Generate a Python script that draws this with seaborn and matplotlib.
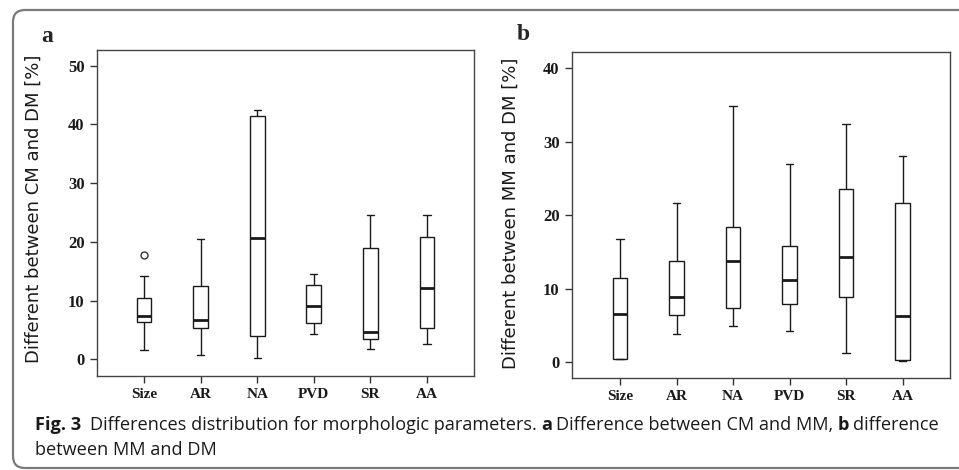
import numpy as np
import pandas as pd
import matplotlib
matplotlib.use("Agg")
import matplotlib.pyplot as plt
from matplotlib.patches import FancyBboxPatch
from matplotlib.transforms import IdentityTransform
import seaborn as sns

params = ["Size", "AR", "NA", "PVD", "SR", "AA"]

# panel a - five number summaries (CM vs DM)
a_low = [1.6, 0.7, 0.3, 4.3, 1.8, 2.6]
a_q1 = [6.4, 5.4, 4.0, 6.1, 3.5, 5.4]
a_med = [7.3, 6.7, 20.7, 9.0, 4.6, 12.1]
a_q3 = [10.4, 12.5, 41.5, 12.7, 19.0, 20.9]
a_high = [14.1, 20.4, 42.5, 14.5, 24.6, 24.6]
a_outlier_cat = ["Size"]
a_outlier_val = [17.8]

# panel b - MM vs DM
b_low = [0.36, 3.8, 4.9, 4.2, 1.2, 0.2]
b_q1 = [0.4, 6.4, 7.3, 7.9, 8.9, 0.3]
b_med = [6.5, 8.8, 13.7, 11.1, 14.3, 6.3]
b_q3 = [11.4, 13.8, 18.4, 15.8, 23.6, 21.7]
b_high = [16.7, 21.6, 34.8, 26.9, 32.4, 28.1]

a_yticks = [0, 10, 20, 30, 40, 50]
b_yticks = [0, 10, 20, 30, 40]

caption_1 = [("Fig. 3", "bold", 9),
             ("Differences distribution for morphologic parameters.", "normal", 4),
             ("a", "bold", 4),
             ("Difference between CM and MM,", "normal", 4),
             ("b", "bold", 4),
             ("difference", "normal", 0)]
caption_2 = [("between MM and DM", "normal", 0)]


def to_frame(low, q1, med, q3, high):
    # five points per group -> quartiles land exactly on q1/med/q3
    vals = low + q1 + med + q3 + high
    return pd.DataFrame({"param": params * 5, "value": vals})


sns.set_style("ticks")
plt.rcParams["font.family"] = ["DejaVu Sans"]

fig = plt.figure(figsize=(9.59, 4.70), dpi=100)

# rounded frame around the whole figure (open on the right)
frame = FancyBboxPatch((13, 2), 1000, 458,
                       boxstyle="round,pad=0,rounding_size=12",
                       transform=IdentityTransform(), facecolor="none",
                       edgecolor="#7a7a7a", linewidth=1.6)
fig.add_artist(frame)

tick_font = dict(family="Liberation Serif", weight="bold")


def draw_panel(ax, df, ylim, yticks, ylabel, label_xy):
    sns.boxplot(data=df, x="param", y="value", order=params, whis=np.inf,
                width=0.26, color="white", linecolor="#1a1a1a", linewidth=1.0,
                showfliers=False, medianprops={"linewidth": 2.0},
                ax=ax)
    ax.set_ylim(*ylim)
    ax.set_yticks(yticks)
    ax.set_xlabel("")
    ax.set_ylabel(ylabel, fontsize=13, color="#1a1a1a")
    ax.yaxis.set_label_coords(*label_xy)
    for lab in ax.get_yticklabels():
        lab.set_fontproperties(tick_font)
        lab.set_fontsize(12)
    for lab in ax.get_xticklabels():
        lab.set_fontproperties(tick_font)
        lab.set_fontsize(11)
    ax.tick_params(length=5, width=1, pad=4, color="#333333",
                   labelcolor="#1a1a1a")
    for sp in ax.spines.values():
        sp.set_visible(True)
        sp.set_color("#444444")
        sp.set_linewidth(1.0)


ax_a = fig.add_axes([97 / 959, 94 / 470, 377 / 959, 326 / 470])
draw_panel(ax_a, to_frame(a_low, a_q1, a_med, a_q3, a_high),
           (-2.84, 52.65), a_yticks, "Different between CM and DM [%]",
           (-0.143, 0.512))
ax_a.set_xlim(-0.83, 5.83)
ax_a.plot([params.index(c) for c in a_outlier_cat], a_outlier_val, "o",
          mfc="none", mec="#333333", ms=5, mew=1)

ax_b = fig.add_axes([572 / 959, 92 / 470, 378 / 959, 326 / 470])
draw_panel(ax_b, to_frame(b_low, b_q1, b_med, b_q3, b_high),
           (-2.18, 42.2), b_yticks, "Different between MM and DM [%]",
           (-0.138, 0.506))
ax_b.set_xlim(-0.85, 5.84)

fig.text(47 / 959, 1 - 37 / 470, "a", fontsize=17, ha="center", va="center",
         **tick_font)
fig.text(523 / 959, 1 - 35 / 470, "b", fontsize=17, ha="center", va="center",
         **tick_font)

# caption, pieces placed one after another
cap_family = ["Open Sans", "DejaVu Sans"]
renderer = fig.canvas.get_renderer()


def caption_line(parts, x_px, y_px, size):
    x = x_px
    texts = []
    for txt, weight, gap in parts:
        t = fig.text(x / 959, 1 - y_px / 470, txt, fontsize=size,
                     fontweight=weight, family=cap_family, va="center",
                     ha="left", color="#1a1a1a")
        texts.append(t)
        bb = t.get_window_extent(renderer)
        x = bb.x1 + gap
    return texts, x


# fit first line between x=35 and x=940
trial, end = caption_line(caption_1, 35, 425, 12)
fit = 12 * (940 - 35) / (end - 35)
for t in trial:
    t.remove()
caption_line(caption_1, 35, 425, fit)
caption_line(caption_2, 35, 450, fit)

fig.savefig("out.png", dpi=100)
